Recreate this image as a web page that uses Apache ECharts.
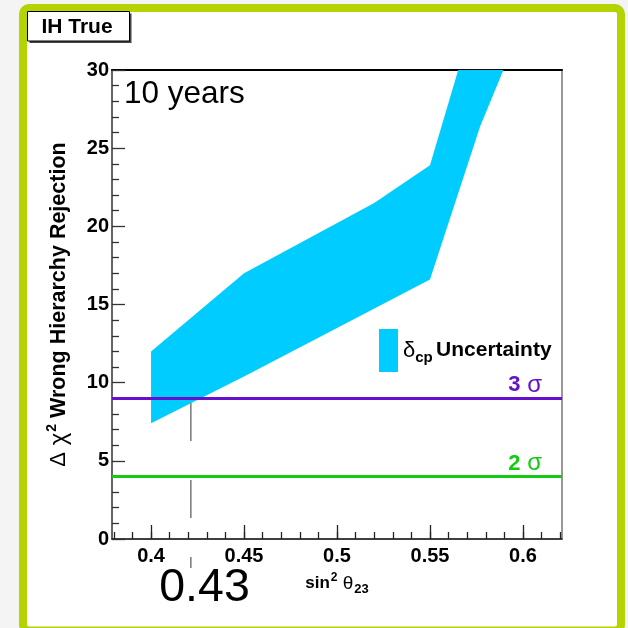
<!DOCTYPE html>
<html>
<head>
<meta charset="utf-8">
<script src="https://cdn.jsdelivr.net/npm/echarts@6/dist/echarts.min.js"></script>
<style>
  html, body { margin: 0; padding: 0; background: #f4f4f4; }
  #chart { width: 628px; height: 628px; }
</style>
</head>
<body>
<div id="chart"></div>
<script>
// δcp uncertainty band in (sin²θ23, Δχ²): upper edge, left to right
const bandUpperX = [0.400, 0.450, 0.520, 0.550, 0.5652];
const bandUpperY = [12.0, 17.0, 21.5, 23.9, 30.0];
// lower edge, right to left
const bandLowerX = [0.5895, 0.577, 0.550, 0.450, 0.400];
const bandLowerY = [30.0, 26.4, 16.6, 10.4, 7.4];

// significance thresholds (Δχ² = 9 → 3σ, Δχ² = 4 → 2σ)
const sigmaValues = [9, 4];
const sigmaNames = ['3', '2'];
const sigmaColors = ['#6410cc', '#11cc11'];

// vertical guide where the lower band edge meets 3σ
const guideX = [0.4214, 0.4214];
const guideY = [8.7, -1.86];

// axis ticks
const xMajorTicks = [0.40, 0.45, 0.50, 0.55, 0.60];
const xMinorTicks = [0.38, 0.39, 0.40, 0.41, 0.42, 0.43, 0.44, 0.45, 0.46, 0.47, 0.48,
                     0.49, 0.50, 0.51, 0.52, 0.53, 0.54, 0.55, 0.56, 0.57, 0.58, 0.59,
                     0.60, 0.61, 0.62];
const yRange = [0, 30];
const xRange = [0.379, 0.621];

const FONT = '"Liberation Sans", Arial, Helvetica, sans-serif';

const bandPolygon = bandUpperX.map((x, i) => [x, bandUpperY[i]])
  .concat(bandLowerX.map((x, i) => [x, bandLowerY[i]]));

const chart = echarts.init(document.getElementById('chart'), null, { renderer: 'canvas' });

const option = {
  animation: false,
  backgroundColor: '#f4f4f4',
  textStyle: { fontFamily: FONT },
  grid: {
    left: 112, top: 70, width: 450, height: 469,
    show: true, borderColor: '#777', borderWidth: 1.5, backgroundColor: 'transparent'
  },
  legend: {
    left: 379, top: 329, padding: 0,
    itemWidth: 19, itemHeight: 43, itemGap: 0,
    icon: 'rect',
    data: [{ name: 'band', icon: 'rect' }],
    selectedMode: false,
    formatter: () => '{d|δ}{s|cp} {u|Uncertainty}',
    textStyle: {
      padding: [0, 0, 0, 0],
      rich: {
        d: { fontFamily: FONT, fontSize: 22, color: '#000', lineHeight: 24 },
        s: { fontFamily: FONT, fontSize: 15, fontWeight: 'bold', color: '#000', lineHeight: 20, padding: [15, 0, 0, 0] },
        u: { fontFamily: FONT, fontSize: 21, fontWeight: 'bold', color: '#000', lineHeight: 24 }
      }
    }
  },
  xAxis: [
    {
      type: 'value', min: xRange[0], max: xRange[1], position: 'bottom',
      axisLine: { show: true, lineStyle: { color: '#222', width: 1.5 } },
      axisTick: { show: true, inside: true, length: 14, customValues: xMajorTicks,
                  lineStyle: { color: '#222', width: 1.3 } },
      axisLabel: {
        customValues: xMajorTicks, margin: 7,
        fontFamily: FONT, fontSize: 20, fontWeight: 'bold', color: '#000',
        formatter: v => String(+v.toFixed(2))
      },
      splitLine: { show: false },
      name: '{b|sin}{p|2}{t| θ}{s|23}',
      nameLocation: 'middle', nameGap: 26,
      nameTextStyle: {
        rich: {
          b: { fontFamily: FONT, fontSize: 17, fontWeight: 'bold', color: '#000', lineHeight: 22 },
          p: { fontFamily: FONT, fontSize: 12, fontWeight: 'bold', color: '#000', lineHeight: 22, padding: [0, 0, 12, 1] },
          t: { fontFamily: FONT, fontSize: 19, color: '#000', lineHeight: 22 },
          s: { fontFamily: FONT, fontSize: 13, fontWeight: 'bold', color: '#000', lineHeight: 22, padding: [12, 0, 0, 1] }
        }
      }
    },
    {
      type: 'value', min: xRange[0], max: xRange[1], position: 'bottom',
      axisLine: { show: false },
      axisTick: { show: true, inside: true, length: 7, customValues: xMinorTicks,
                  lineStyle: { color: '#222', width: 1.3 } },
      axisLabel: { show: false },
      splitLine: { show: false }
    },
    {
      type: 'value', min: xRange[0], max: xRange[1], position: 'top',
      axisLine: { show: true, lineStyle: { color: '#000', width: 2 } },
      axisTick: { show: false }, axisLabel: { show: false }, splitLine: { show: false }
    }
  ],
  yAxis: [
    {
      type: 'value', min: yRange[0], max: yRange[1], interval: 5,
      axisLine: { show: true, lineStyle: { color: '#555', width: 1.5 } },
      axisTick: { show: true, inside: true, length: 13, lineStyle: { color: '#333', width: 1.3 } },
      minorTick: { show: true, splitNumber: 5, length: 7, lineStyle: { color: '#333', width: 1.3 } },
      axisLabel: { margin: 3, fontFamily: FONT, fontSize: 20, fontWeight: 'bold', color: '#000' },
      splitLine: { show: false },
      name: '{g|Δ}{g2| χ}{p|2}{b| Wrong Hierarchy Rejection}',
      nameLocation: 'middle', nameGap: 40,
      nameTextStyle: {
        rich: {
          g: { fontFamily: FONT, fontSize: 22, color: '#000', lineHeight: 26 },
          g2: { fontFamily: FONT, fontSize: 24, color: '#000', lineHeight: 26 },
          p: { fontFamily: FONT, fontSize: 14, fontWeight: 'bold', color: '#000', lineHeight: 26, padding: [0, 0, 13, 1] },
          b: { fontFamily: FONT, fontSize: 21.5, fontWeight: 'bold', color: '#000', lineHeight: 26 }
        }
      }
    }
  ],
  series: [
    {
      name: 'band',
      type: 'custom',
      coordinateSystem: 'cartesian2d',
      xAxisIndex: 0, yAxisIndex: 0,
      clip: true,
      z: 1,
      itemStyle: { color: '#00ccff' },
      data: [bandPolygon[0]],
      renderItem: function (params, api) {
        const points = bandPolygon.map(p => api.coord(p));
        return {
          type: 'polygon',
          shape: { points: points },
          style: { fill: '#00ccff' }
        };
      }
    },
    {
      name: 'guide',
      type: 'line',
      xAxisIndex: 0, yAxisIndex: 0,
      z: 3,
      clip: false,
      symbol: 'none',
      silent: true,
      data: guideX.map((x, i) => [x, guideY[i]]),
      lineStyle: { color: '#808080', width: 1.6, type: [38, 39] },
      markLine: {
        silent: true,
        symbol: 'none',
        data: sigmaValues.map((v, i) => ({
          yAxis: v,
          lineStyle: { color: sigmaColors[i], width: 3, type: 'solid' },
          label: {
            show: true,
            position: 'insideEndTop',
            distance: [20, 1],
            formatter: '{n|' + sigmaNames[i] + '}  {g|σ}',
            rich: {
              n: { fontFamily: FONT, fontSize: 22, fontWeight: 'bold', color: sigmaColors[i] },
              g: { fontFamily: FONT, fontSize: 24, color: sigmaColors[i] }
            }
          }
        }))
      }
    }
  ],
  graphic: [
    // outer frame
    {
      type: 'rect', z: -10, silent: true,
      shape: { x: 23, y: 8, width: 598, height: 622.5, r: 6 },
      style: { fill: '#ffffff', stroke: '#b5d300', lineWidth: 8 }
    },
    // title box with drop shadow
    {
      type: 'rect', silent: true,
      shape: { x: 29.5, y: 13.5, width: 102, height: 29.5 },
      style: { fill: '#444' }
    },
    {
      type: 'rect', silent: true,
      shape: { x: 27.5, y: 11.5, width: 102, height: 29.5 },
      style: { fill: '#fff', stroke: '#000', lineWidth: 1 }
    },
    {
      type: 'text', silent: true,
      x: 77, y: 27,
      style: { text: 'IH True', font: 'bold 21px ' + FONT, fill: '#000', align: 'center', verticalAlign: 'middle' }
    },
    {
      type: 'text', silent: true,
      x: 124, y: 94,
      style: { text: '10 years', font: '31.5px ' + FONT, fill: '#000', align: 'left', verticalAlign: 'middle' }
    },
    {
      type: 'text', silent: true,
      x: 204.5, y: 588,
      style: { text: '0.43', font: '46.5px ' + FONT, fill: '#000', align: 'center', verticalAlign: 'middle' }
    }
  ]
};

chart.setOption(option);
</script>
</body>
</html>
